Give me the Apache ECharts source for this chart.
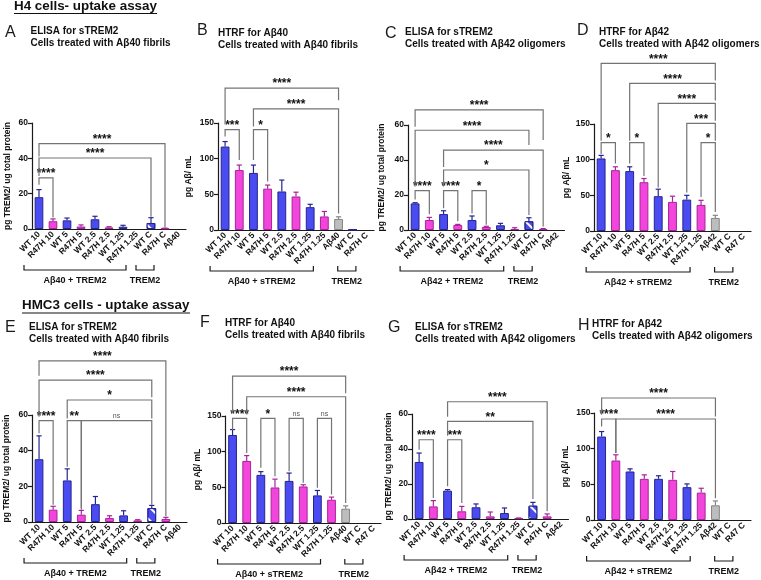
<!DOCTYPE html>
<html>
<head>
<meta charset="utf-8">
<script src="https://cdn.jsdelivr.net/npm/echarts@6/dist/echarts.min.js"></script>
<style>
  html, body { margin: 0; padding: 0; background: #fff; }
  #chart { width: 761px; height: 580px; }
</style>
</head>
<body>
<div id="chart"></div>
<script>
// categories
const catsA = ['WT 10','R47H 10','WT 5','R47H 5','WT 2.5','R47H 2.5','WT 1.25','R47H 1.25','WT C','R47H C','Aβ40'];
const catsB = ['WT 10','R47H 10','WT 5','R47H 5','WT 2.5','R47H 2.5','WT 1.25','R47H 1.25','Aβ40','WT C','R47H C'];
const catsC = ['WT 10','R47H 10','WT 5','R47H 5','WT 2.5','R47H 2.5','WT 1.25','R47H 1.25','WT C','R47H C','Aβ42'];
const catsD = ['WT 10','R47H 10','WT 5','R47H 5','WT 2.5','R47H 2.5','WT 1.25','R47H 1.25','Aβ42','WT C','R47 C'];
const catsE = catsA;
const catsF = ['WT 10','R47H 10','WT 5','R47H 5','WT 2.5','R47H 2.5','WT 1.25','R47H 1.25','Aβ40','WT C','R47 C'];
const catsG = catsC;
const catsH = catsD;

// means and upper error (SEM)
const valsA = [18, 4.4, 4.9, 1.4, 5.5, 0.9, 1.3, 0, 3.4, 0.3, 0];
const errA  = [4.3, 1.3, 1.3, 0.9, 1.7, 0.4, 0.8, 0, 3, 0.2, 0];
const valsB = [117, 84, 80, 58, 54, 47, 32, 19, 15.5, 0.5, 0];
const errB  = [7, 7, 11, 5, 16, 6, 4, 7, 3, 0, 0];
const valsC = [15.2, 5.7, 9.1, 2.9, 5.7, 1.7, 2.7, 0.6, 5, 0.5, 0];
const errC  = [0.4, 1.5, 1.9, 0.3, 2.3, 0.4, 1.1, 0.7, 2, 0.3, 0];
const valsD = [101.7, 85.3, 84, 68.4, 48.8, 40.8, 44, 36.6, 18.3, 0, 0];
const errD  = [4.3, 4.7, 6, 5.2, 9.8, 8, 6, 6.4, 3.7, 0, 0];
const valsE = [35.2, 6.9, 23.3, 4.1, 10, 2.2, 3.7, 0.9, 7.8, 1.7, 0];
const errE  = [13.1, 1.9, 6.5, 2.4, 4.3, 1.3, 2.6, 0.4, 1.5, 0.9, 0];
const valsF = [123.4, 87, 67.5, 49.8, 59, 51.2, 38.7, 32.6, 20, 0, 0];
const errF  = [7.6, 7.5, 4.5, 11.7, 11, 2.4, 6.9, 3.7, 4, 0, 0];
const valsG = [32.6, 7.2, 16.2, 4.4, 6.7, 1.5, 3.4, 0.4, 7.6, 1.5, 0];
const errG  = [5.1, 3.3, 0.6, 2.8, 1.9, 2.5, 2.9, 0.2, 1.9, 1.4, 0];
const valsH = [117, 83.4, 68, 57.7, 57.7, 56.3, 46, 38.4, 20.6, 0, 0];
const errH  = [7, 8, 3.7, 5.6, 4.3, 11.7, 4.6, 6.1, 6.1, 0, 0];

// significance brackets: [from, to, line level, left leg end, right leg end, label]
const brkA = [[0,1,28.9,25,6.5,'****'],[0,8,40.2,30,7,'****'],[0,9,48.3,41,1,'****']];
const brkB = [[0,1,140.6,131,98,'***'],[2,3,140.6,98,68,'*'],[2,8,169.7,145,23,'****'],[0,8,199,148,182,'****']];
const brkC = [[0,1,22.5,17.5,9,'****'],[2,3,22.5,12.5,5,'****'],[4,5,22.5,9.5,3,'*'],
              [2,8,34.3,24.8,8.6,'*'],[2,9,45.7,36,2,'****'],[0,8,57,24.8,48.6,'****'],[0,9,68.6,59,51.4,'****']];
const brkD = [[0,1,123.8,108,94.7,'*'],[2,3,123.8,94.7,77,'*'],[7,8,123.8,47.8,26.7,'*'],
              [6,8,150.9,54,126.6,'***'],[4,8,179,61,154.7,'****'],[2,8,207,126.6,182.8,'****'],[0,8,235,126.6,211,'****']];
const brkE = [[0,1,56.8,49.7,9.7,'****'],[2,3,56.8,31,7.8,'**'],[3,8,56.8,6.9,9.7,'ns'],
              [2,8,68.4,58,58,'*'],[0,8,79.6,59,70,'****'],[0,9,90.4,82,3.2,'****']];
const brkF = [[0,1,146.7,130.4,98.3,'****'],[2,3,146.7,77.3,65.7,'*'],[4,5,146.7,72.6,56.3,'ns'],[6,7,146.7,49.4,40,'ns'],
              [1,8,177,152,28,'****'],[0,8,206,153.7,182,'****']];
const brkG = [[0,1,45.3,39.6,12,'****'],[2,3,45.3,18.7,9.1,'***'],[2,8,55.8,47.6,11.4,'**'],[2,9,67,58.5,4.4,'****']];
const brkH = [[0,1,141.6,131,93.8,'****'],[1,8,141.6,93.8,30.5,'****'],[0,8,171,147.7,145,'****']];

// group labels under the x axis: [from, to, label]
const grpA = [[0,7,'Aβ40 + TREM2'],[8,9,'TREM2']];
const grpB = [[0,7,'Aβ40 + sTREM2'],[9,10,'TREM2']];
const grpC = [[0,7,'Aβ42 + TREM2'],[8,9,'TREM2']];
const grpD = [[0,7,'Aβ42 + sTREM2'],[9,10,'TREM2']];
const grpE = grpA;
const grpF = [[0,7,'Aβ40 + sTREM2'],[9,10,'TREM2']];
const grpG = grpC;
const grpH = grpD;

const titlesTop = ['ELISA for sTREM2','HTRF for Aβ40','ELISA for sTREM2','HTRF for Aβ42','ELISA for sTREM2','HTRF for Aβ40','ELISA for sTREM2','HTRF for Aβ42'];
const titlesSub = ['Cells treated with Aβ40 fibrils','Cells treated with Aβ40 fibrils','Cells treated with Aβ42 oligomers','Cells treated with Aβ42 oligomers',
                   'Cells treated with Aβ40 fibrils','Cells treated with Aβ40 fibrils','Cells treated with Aβ42 oligomers','Cells treated with Aβ42 oligomers'];
const letters = ['A','B','C','D','E','F','G','H'];
const yNameTrem = 'pg TREM2/ ug total protein';
const yNameAb = 'pg Aβ/ mL';

const FF = '"Liberation Sans", Arial, sans-serif';
const AX = '#1a1a1a';

const panels = [
  {cats: catsA, vals: valsA, err: errA, brk: brkA, grp: grpA, max: 60, step: 20, yName: yNameTrem, gap: 20,
   grid: {left: 32, top: 123, width: 154, height: 106}, letter: [5, 25], title: [30.5, 31]},
  {cats: catsB, vals: valsB, err: errB, brk: brkB, grp: grpB, max: 150, step: 50, yName: yNameAb, gap: 25,
   grid: {left: 218, top: 123, width: 156, height: 107}, letter: [197, 23], title: [218, 33]},
  {cats: catsC, vals: valsC, err: errC, brk: brkC, grp: grpC, max: 60, step: 20, yName: yNameTrem, gap: 22,
   grid: {left: 408, top: 125, width: 156.5, height: 105}, letter: [385, 26], title: [405, 32]},
  {cats: catsD, vals: valsD, err: errD, brk: brkD, grp: grpD, max: 150, step: 50, yName: yNameAb, gap: 23,
   grid: {left: 594, top: 124, width: 157, height: 107}, letter: [577, 23], title: [599, 32]},
  {cats: catsE, vals: valsE, err: errE, brk: brkE, grp: grpE, max: 60, step: 20, yName: yNameTrem, gap: 21,
   grid: {left: 32, top: 415, width: 155, height: 107}, letter: [5, 320], title: [29, 327.5]},
  {cats: catsF, vals: valsF, err: errF, brk: brkF, grp: grpF, max: 150, step: 50, yName: yNameAb, gap: 23,
   grid: {left: 225.5, top: 416, width: 155.5, height: 107}, letter: [200, 315], title: [225, 323.5]},
  {cats: catsG, vals: valsG, err: errG, brk: brkG, grp: grpG, max: 60, step: 20, yName: yNameTrem, gap: 19,
   grid: {left: 412, top: 414, width: 156.5, height: 105}, letter: [388, 320], title: [415, 327]},
  {cats: catsH, vals: valsH, err: errH, brk: brkH, grp: grpH, max: 150, step: 50, yName: yNameAb, gap: 24,
   grid: {left: 594.5, top: 413, width: 156.5, height: 107}, letter: [578, 318], title: [592, 324]}
];

function colorOf(cat) {
  if (cat.indexOf('WT') === 0) return {fill: '#4b4bf2', edge: '#25258f'};
  if (cat.indexOf('R47') === 0) return {fill: '#f245dc', edge: '#a8239a'};
  return {fill: '#bdbdbd', edge: '#858585'};
}

function barItem(cat, v) {
  const c = colorOf(cat);
  const it = {value: v, itemStyle: {color: c.fill, borderColor: c.edge, borderWidth: v > 0 ? 1 : 0}};
  if (cat === 'WT C' && v > 0) {
    it.itemStyle.decal = {symbol: 'rect', symbolSize: 1, color: '#ffffff',
                          dashArrayX: [1, 0], dashArrayY: [2, 7], rotation: Math.PI / 4};
  }
  return it;
}

function errRender(cats) {
  return function (params, api) {
    const i = api.value(0), v = api.value(1), e = api.value(2);
    if (!e) return null;
    const p0 = api.coord([i, v]);
    const p1 = api.coord([i, v + e]);
    const col = colorOf(cats[i]).edge;
    const st = {stroke: col, lineWidth: 1.2};
    return {type: 'group', children: [
      {type: 'line', shape: {x1: p0[0], y1: p0[1], x2: p1[0], y2: p1[1]}, style: st},
      {type: 'line', shape: {x1: p1[0] - 2.6, y1: p1[1], x2: p1[0] + 2.6, y2: p1[1]}, style: st}
    ]};
  };
}

function brkRender(brk) {
  return function (params, api) {
    const b = brk[params.dataIndex];
    const a = api.coord([b[0], b[2]]);
    const c = api.coord([b[1], b[2]]);
    const la = api.coord([b[0], b[3]]);
    const lc = api.coord([b[1], b[4]]);
    const ns = b[5] === 'ns';
    return {type: 'group', children: [
      {type: 'polyline', shape: {points: [[a[0], la[1]], a, c, [c[0], lc[1]]]},
       style: {stroke: '#747474', lineWidth: 1.2, fill: null}},
      {type: 'text', style: {x: (a[0] + c[0]) / 2, y: a[1] - (ns ? 4.6 : 4), text: b[5],
        font: (ns ? 'normal 7px ' : 'bold 12px ') + FF, fill: ns ? '#555' : '#111',
        align: 'center', verticalAlign: 'middle'}}
    ]};
  };
}

function grpRender(grp) {
  return function (params, api) {
    const g = grp[params.dataIndex];
    const p1 = api.coord([g[0], 0]);
    const p2 = api.coord([g[1], 0]);
    const x1 = p1[0] - 15, x2 = p2[0] - 11, y = p1[1] + 41;
    return {type: 'group', children: [
      {type: 'polyline', shape: {points: [[x1, y - 5], [x1, y], [x2, y], [x2, y - 5]]},
       style: {stroke: AX, lineWidth: 1.2, fill: null}},
      {type: 'text', style: {x: (x1 + x2) / 2, y: y + 11, text: g[2], font: 'bold 9px ' + FF,
        fill: '#111', align: 'center', verticalAlign: 'middle'}}
    ]};
  };
}

const grids = [], xAxes = [], yAxes = [], series = [], graphics = [];

panels.forEach(function (p, k) {
  grids.push(Object.assign({containLabel: false}, p.grid));
  xAxes.push({
    type: 'category', gridIndex: k, data: p.cats,
    axisLine: {lineStyle: {color: AX, width: 1.2}},
    axisTick: {alignWithLabel: true, length: 4, lineStyle: {color: AX, width: 1.2}},
    axisLabel: {interval: 0, rotate: 45, margin: 4, fontSize: 8.5, fontWeight: 'bold', color: '#111', fontFamily: FF},
    splitLine: {show: false}
  });
  yAxes.push({
    type: 'value', gridIndex: k, min: 0, max: p.max, interval: p.step,
    name: p.yName, nameLocation: 'middle', nameGap: p.gap,
    nameTextStyle: {fontSize: 8.5, fontWeight: 'bold', color: '#111', fontFamily: FF},
    axisLine: {show: true, lineStyle: {color: AX, width: 1.2}},
    axisTick: {show: true, length: 4, lineStyle: {color: AX, width: 1.2}},
    axisLabel: {fontSize: 8.5, fontWeight: 'bold', color: '#111', margin: 4, fontFamily: FF},
    splitLine: {show: false}
  });
  series.push({type: 'bar', xAxisIndex: k, yAxisIndex: k, barWidth: '62%', silent: true, z: 2,
    data: p.vals.map(function (v, i) { return barItem(p.cats[i], v); })});
  series.push({type: 'custom', xAxisIndex: k, yAxisIndex: k, z: 3, clip: false, silent: true,
    data: p.vals.map(function (v, i) { return [i, v, p.err[i]]; }), renderItem: errRender(p.cats)});
  series.push({type: 'custom', xAxisIndex: k, yAxisIndex: k, z: 4, clip: false, silent: true,
    data: p.brk.map(function (b) { return [b[0], b[2]]; }), renderItem: brkRender(p.brk)});
  series.push({type: 'custom', xAxisIndex: k, yAxisIndex: k, z: 4, clip: false, silent: true,
    data: p.grp.map(function (g) { return [g[0], 0]; }), renderItem: grpRender(p.grp)});

  graphics.push({type: 'text', x: p.letter[0], y: p.letter[1],
    style: {text: letters[k], font: 'normal 16px ' + FF, fill: '#1a1a1a', align: 'left', verticalAlign: 'top'}});
  graphics.push({type: 'text', x: p.title[0], y: p.title[1],
    style: {text: titlesTop[k], font: 'bold 10px ' + FF, fill: '#111', align: 'left', verticalAlign: 'middle'}});
  graphics.push({type: 'text', x: p.title[0], y: p.title[1] + 12,
    style: {text: titlesSub[k], font: 'bold 10px ' + FF, fill: '#111', align: 'left', verticalAlign: 'middle'}});
});

// section headings
graphics.push({type: 'text', x: 14, y: 0,
  style: {text: 'H4 cells- uptake assay', font: 'bold 13.4px ' + FF, fill: '#111', align: 'left', verticalAlign: 'top'}});
graphics.push({type: 'line', shape: {x1: 14, y1: 13.5, x2: 157, y2: 13.5}, style: {stroke: '#111', lineWidth: 1.2}});
graphics.push({type: 'text', x: 22, y: 298.5,
  style: {text: 'HMC3 cells - uptake assay', font: 'bold 13.4px ' + FF, fill: '#111', align: 'left', verticalAlign: 'top'}});
graphics.push({type: 'line', shape: {x1: 22, y1: 313, x2: 190, y2: 313}, style: {stroke: '#111', lineWidth: 1.2}});

const chart = echarts.init(document.getElementById('chart'));
chart.setOption({
  animation: false,
  backgroundColor: '#ffffff',
  grid: grids,
  xAxis: xAxes,
  yAxis: yAxes,
  series: series,
  graphic: graphics
});
</script>
</body>
</html>
